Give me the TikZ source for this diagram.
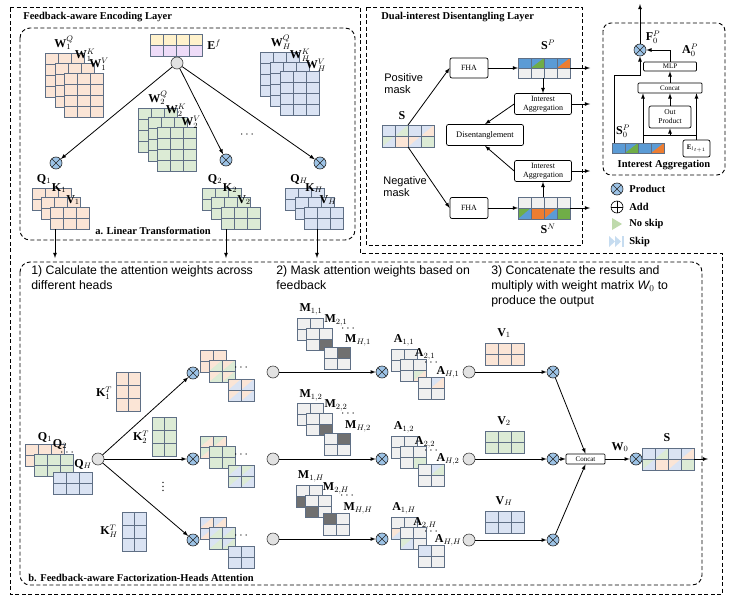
\documentclass[tikz,border=0pt]{standalone}
\usepackage{fontspec}
\setmainfont{Liberation Serif}
\newfontfamily\armfont{Liberation Sans}

\definecolor{peach}{HTML}{FBE5D6}
\definecolor{mint}{HTML}{DCEBD5}
\definecolor{sky}{HTML}{DAE3F3}
\definecolor{cellgray}{HTML}{F0F0F0}
\definecolor{darkcell}{HTML}{707070}
\definecolor{gridc}{HTML}{5F6F85}
\definecolor{prodblue}{HTML}{9DC3E6}
\definecolor{hubgray}{HTML}{E2E2E2}
\definecolor{sblue}{HTML}{5B9BD5}
\definecolor{sgreen}{HTML}{70AD47}
\definecolor{sorange}{HTML}{ED7D31}
\definecolor{eyellow}{HTML}{FFF2CC}
\definecolor{epurple}{HTML}{EEDCF8}

% grid lines of a matrix: x, y, cols, rows, cell w, cell h
\newcommand{\mlines}[6]{%
  \foreach \k in {1,...,#3}{\draw[gridc] ({#1+\k*#5},{#2}) -- ++(0,{#4*#6});}%
  \foreach \k in {1,...,#4}{\draw[gridc] ({#1},{#2+\k*#6}) -- ++({#3*#5},0);}%
  \draw[gridc] ({#1},{#2}) rectangle ++({#3*#5},{#4*#6});}
\newcommand{\mgrid}[7]{\fill[#7] ({#1},{#2}) rectangle ++({#3*#5},{#4*#6});\mlines{#1}{#2}{#3}{#4}{#5}{#6}}
% every cell split, upper-left half in #8
\newcommand{\tmat}[8]{%
  \fill[#7] ({#1},{#2}) rectangle ++({#3*#5},{#4*#6});%
  \foreach \i in {1,...,#3}{\foreach \j in {1,...,#4}{%
    \fill[#8] ({#1+(\i-1)*#5},{#2+(\j-1)*#6}) -- ++({#5},0) -- ++({-#5},{#6}) -- cycle;}}%
  \mlines{#1}{#2}{#3}{#4}{#5}{#6}}
\newcommand{\lrtri}[5]{\fill[#5] ({#1},{#2+#4}) -- ({#1+#3},{#2}) -- ({#1+#3},{#2+#4}) -- cycle;}
\newcommand{\cellfill}[5]{\fill[#5] ({#1},{#2}) rectangle ++({#3},{#4});}
\newcommand{\smat}[2]{%
  \fill[sky] ({#1},{#2}) rectangle ++(52,11);
  \fill[mint] ({#1},{#2+11}) rectangle ++(13,11);
  \fill[peach] ({#1+13},{#2+11}) rectangle ++(26,11);
  \fill[mint] ({#1+39},{#2+11}) rectangle ++(13,11);
  \lrtri{#1+13}{#2}{13}{11}{mint}\lrtri{#1+39}{#2}{13}{11}{peach}%
  \lrtri{#1}{#2+11}{13}{11}{sky}\lrtri{#1+26}{#2+11}{13}{11}{sky}%
  \mlines{#1}{#2}{4}{2}{13}{11}}

\begin{document}
\begin{tikzpicture}[x=1pt, y=-1pt, >=latex, line width=0.8pt]
    \tikzstyle{prod}=[draw=black!85, line width=0.6pt, circle, fill=prodblue, minimum size=12pt, inner sep=0pt,
        path picture={\draw[black!85, line width=0.6pt] (path picture bounding box.north west) -- (path picture bounding box.south east)
                      (path picture bounding box.north east) -- (path picture bounding box.south west);}]
    \tikzstyle{addc}=[draw=black, line width=0.6pt, circle, minimum size=12pt, inner sep=0pt,
        path picture={\draw[line width=0.6pt] (path picture bounding box.north) -- (path picture bounding box.south)
                      (path picture bounding box.west) -- (path picture bounding box.east);}]
    \tikzstyle{hub}=[draw=black!75, line width=0.6pt, circle, fill=hubgray, minimum size=12pt, inner sep=0pt]
    \tikzstyle{blk}=[draw, line width=0.7pt, rounded corners=2pt, inner sep=0pt, align=center, font=\fontsize{8}{8.5}\selectfont]
    \tikzstyle{lbl}=[inner sep=0pt, font=\fontsize{12}{13}\selectfont]
    \tikzstyle{ttl}=[inner sep=0pt, font=\fontsize{10.5}{12}\selectfont\bfseries]
    \tikzstyle{note}=[inner sep=0pt, anchor=north west, align=left, font=\armfont\fontsize{12.3}{15}\selectfont]
    \tikzstyle{dbox}=[dash pattern=on 4pt off 2.5pt, line width=0.9pt]

    \useasboundingbox (0,0) rectangle (747,597);

    % frames
    \draw[dbox] (10,7) -- (360,7) -- (360,253) -- (722,253) -- (722,594) -- (10,594) -- cycle;
    \draw[dbox, rounded corners=10pt] (20,28) rectangle (355,240);
    \draw[dbox] (366,7) rectangle (582,245);
    \draw[dbox, rounded corners=8pt] (603,23) rectangle (725,175);
    \draw[dbox, rounded corners=10pt] (20,262) rectangle (702,585);
    \node[ttl, anchor=west] (enct) at (23,17) {Feedback-aware Encoding Layer};
    \node[ttl] (lint) at (153,231) {a. Linear Transformation};
    \node[ttl, anchor=west] (dualt) at (381,17) {Dual-interest Disentangling Layer};
    \node[ttl, anchor=west] (fhat) at (28,578) {b. Feedback-aware Factorization-Heads Attention};

    % a. linear transformation
    \mgrid{150}{34}{4}{1}{13}{11}{eyellow}
    \mgrid{150}{45}{4}{1}{13}{11}{epurple}
    \node[lbl] (ef) at (214,45) {$\mathbf{E}^f$};

    \mgrid{45}{53}{3}{4}{13}{11}{peach}
    \mgrid{55}{63}{3}{4}{13}{11}{peach}
    \mgrid{64}{73}{3}{4}{13}{11}{peach}
    \mgrid{138}{108}{3}{4}{13}{11}{mint}
    \mgrid{148}{117}{3}{4}{13}{11}{mint}
    \mgrid{157}{127}{3}{4}{13}{11}{mint}
    \mgrid{260}{52}{3}{4}{13}{11}{sky}
    \mgrid{270}{62}{3}{4}{13}{11}{sky}
    \mgrid{280}{71}{3}{4}{13}{11}{sky}
    \node[lbl] (w1q) at (64,43) {$\mathbf{W}_1^Q$};
    \node[lbl] (w1k) at (85,55) {$\mathbf{W}_1^K$};
    \node[lbl] (w1v) at (99,64) {$\mathbf{W}_1^V$};
    \node[lbl] (w2q) at (158,98) {$\mathbf{W}_2^Q$};
    \node[lbl] (w2k) at (176,110) {$\mathbf{W}_2^K$};
    \node[lbl] (w2v) at (191,122) {$\mathbf{W}_2^V$};
    \node[lbl] (whq) at (281,42) {$\mathbf{W}_H^Q$};
    \node[lbl] (whk) at (300,55) {$\mathbf{W}_H^K$};
    \node[lbl] (whv) at (316,65) {$\mathbf{W}_H^V$};
    \node[lbl] (wdots) at (247,135) {$\cdots$};

    \mgrid{32}{188}{3}{2}{13}{11}{peach}
    \mgrid{41}{197}{3}{2}{13}{11}{peach}
    \mgrid{50}{207}{3}{2}{13}{11}{peach}
    \mgrid{202}{188}{3}{2}{13}{11}{mint}
    \mgrid{211}{197}{3}{2}{13}{11}{mint}
    \mgrid{221}{207}{3}{2}{13}{11}{mint}
    \mgrid{285}{188}{3}{2}{13}{11}{sky}
    \mgrid{295}{197}{3}{2}{13}{11}{sky}
    \mgrid{304}{207}{3}{2}{13}{11}{sky}
    \node[lbl] (q1) at (44,179) {$\mathbf{Q}_1$};
    \node[lbl] (k1) at (59,188) {$\mathbf{K}_1$};
    \node[lbl] (v1) at (73,200) {$\mathbf{V}_1$};
    \node[lbl] (q2) at (215,179) {$\mathbf{Q}_2$};
    \node[lbl] (k2) at (230,188) {$\mathbf{K}_2$};
    \node[lbl] (v2) at (244,200) {$\mathbf{V}_2$};
    \node[lbl] (qh) at (299,179) {$\mathbf{Q}_H$};
    \node[lbl] (kh) at (314,188) {$\mathbf{K}_H$};
    \node[lbl] (vh) at (328,200) {$\mathbf{V}_H$};

    \node[hub] (ehub) at (177,63) {};
    \node[prod] (pq1) at (56,163) {};
    \node[prod] (pq2) at (226,160) {};
    \node[prod] (pqh) at (320,163) {};
    \draw[->] (ehub) -- (pq1);
    \draw[->] (ehub) -- (pq2);
    \draw[->] (ehub) -- (pqh);

    \coordinate (o1a) at (55,229);  \coordinate (o1b) at (55,258);
    \coordinate (o2a) at (226,229); \coordinate (o2b) at (226,258);
    \coordinate (o3a) at (317,229); \coordinate (o3b) at (317,258);
    \draw[->] (o1a) -- (o1b);
    \draw[->] (o2a) -- (o2b);
    \draw[->] (o3a) -- (o3b);

    % dual-interest disentangling
    \node[note, font=\armfont\fontsize{11}{12.5}\selectfont] (posm) at (384,73) {Positive\\mask};
    \node[note, font=\armfont\fontsize{11}{12.5}\selectfont] (negm) at (383,176) {Negative\\mask};
    \smat{382}{125}
    \node[lbl] (sl) at (402,116) {$\mathbf{S}$};
    \coordinate (stop) at (408,125);
    \coordinate (sbot) at (408,147);

    \node[blk, minimum width=38pt, minimum height=20pt] (fhap) at (469,68) {FHA};
    \node[blk, minimum width=38pt, minimum height=21pt] (fhan) at (469,208) {FHA};
    \node[blk, minimum width=57pt, minimum height=21pt] (iap) at (543,104) {Interest\\Aggregation};
    \node[blk, minimum width=57pt, minimum height=21pt] (ian) at (543,171) {Interest\\Aggregation};
    \node[blk, minimum width=77pt, minimum height=21pt, font=\fontsize{8.5}{9}\selectfont] (dis) at (485,135) {Disentanglement};

    \fill[sblue] (518,58) rectangle ++(52,10);
    \fill[cellgray] (518,68) rectangle ++(52,10);
    \lrtri{531}{58}{13}{10}{sgreen}\lrtri{557}{58}{13}{10}{sorange}
    \mlines{518}{58}{4}{2}{13}{10}
    \node[lbl] (spl) at (548,45) {$\mathbf{S}^P$};

    \fill[cellgray] (518,197) rectangle ++(52,11);
    \fill[sgreen] (518,208) rectangle ++(13,11);
    \fill[sorange] (531,208) rectangle ++(26,11);
    \fill[sgreen] (557,208) rectangle ++(13,11);
    \lrtri{518}{208}{13}{11}{sblue}\lrtri{544}{208}{13}{11}{sblue}
    \mlines{518}{197}{4}{2}{13}{11}
    \node[lbl] (snl) at (548,229) {$\mathbf{S}^N$};

    \coordinate (spw) at (518,68);  \coordinate (spe) at (570,68);
    \coordinate (spo) at (590,68);  \coordinate (sps) at (543,78);
    \coordinate (snw) at (518,208); \coordinate (sne) at (570,208);
    \coordinate (sno) at (590,208); \coordinate (snn) at (543,197);
    \coordinate (iapo) at (590,104); \coordinate (iano) at (590,171);

    \draw[->] (stop) -- (fhap.west);
    \draw[->] (sbot) -- (fhan.west);
    \draw[->] (fhap) -- (spw);
    \draw[->] (fhan) -- (snw);
    \draw[->] (spe) -- (spo);
    \draw[->] (sne) -- (sno);
    \draw[->] (sps) -- (iap);
    \draw[->] (snn) -- (ian);
    \draw[->] (iap) -- (iapo);
    \draw[->] (ian) -- (iano);
    \draw[->] (iap.west) -- (dis.north);
    \draw[->] (ian.west) -- (dis.south);

    % interest aggregation
    \node[prod] (pf) at (640,50) {};
    \coordinate (ftop) at (640,4);
    \draw[->] (pf) -- (ftop);
    \node[lbl] (fl) at (653,37) {$\mathbf{F}_0^P$};
    \node[lbl] (al) at (690,50) {$\mathbf{A}_0^P$};
    \node[blk, rounded corners=1pt, minimum width=53pt, minimum height=9pt, font=\fontsize{7}{7}\selectfont] (mlp) at (670,66.5) {MLP};
    \node[blk, rounded corners=1pt, minimum width=64pt, minimum height=10pt, font=\fontsize{7}{7}\selectfont] (cat) at (670,88) {Concat};
    \node[blk, minimum width=42pt, minimum height=22pt, font=\fontsize{7.5}{9}\selectfont] (op) at (670,117) {Out\\Product};
    \node[blk, minimum width=27pt, minimum height=17pt, font=\fontsize{7}{7}\selectfont] (el) at (696.5,148.5) {$\mathbf{E}_{l_{t+1}}$};
    \fill[sblue] (612,143) rectangle ++(52,10);
    \lrtri{625}{143}{13}{10}{sgreen}\lrtri{651}{143}{13}{10}{sorange}
    \mlines{612}{143}{4}{1}{13}{10}
    \node[lbl] (s0l) at (623,131) {$\mathbf{S}_0^P$};
    \node[ttl] (iat) at (664,165) {Interest Aggregation};

    \coordinate (s0a) at (614,143);
    \coordinate (s0k) at (640,75);
    \coordinate (s0c) at (643,143);
    \coordinate (hl) at (643,135);
    \coordinate (hr) at (697,135);
    \draw[->] (mlp.north) |- (pf);
    \draw[->] (cat) -- (mlp);
    \draw[->] (s0a) |- (s0k) -- (pf);
    \draw[->] (s0c) -- (s0c |- cat.south);
    \draw (hl) -- (hr);
    \draw[->] (el.north) -- (el.north |- cat.south);
    \draw[->] (op.south |- hl) -- (op);
    \draw[->] (op) -- (cat);

    % legend
    \node[prod] (lgp) at (617,189) {};
    \node[addc] (lga) at (617,207) {};
    \fill[sgreen!45] (612,218) -- (622,224) -- (612,230) -- cycle;
    \fill[sblue!35] (609,236) -- (615,241.5) -- (609,247) -- cycle;
    \fill[sblue!35] (615,236) -- (621,241.5) -- (615,247) -- cycle;
    \fill[sblue!35] (621.5,236) rectangle (623.5,247);
    \node[ttl, anchor=west] (lgpt) at (629,189) {Product};
    \node[ttl, anchor=west] (lgat) at (629,207) {Add};
    \node[ttl, anchor=west] (lgnt) at (629,224) {No skip};
    \node[ttl, anchor=west] (lgst) at (629,242) {Skip};

    % b. feedback-aware factorization-heads attention
    \node[note] (step1) at (31,265) {1) Calculate the attention weights across\\different heads};
    \node[note] (step2) at (276,265) {2) Mask attention weights based on\\feedback};
    \node[note] (step3) at (491,265) {3) Concatenate the results and\\multiply with weight matrix {\itshape W}$_0$ to\\produce the output};

    \mgrid{25}{444}{3}{2}{13}{11}{peach}
    \mgrid{34}{454}{3}{2}{13}{11}{mint}
    \mgrid{53}{472}{3}{2}{13}{11}{sky}
    \node[lbl] (bq1) at (45,437) {$\mathbf{Q}_1$};
    \node[lbl] (bq2) at (60,444) {$\mathbf{Q}_2$};
    \node[lbl] (bqd) at (67,453) {$\cdots$};
    \node[lbl] (bqh) at (83,464) {$\mathbf{Q}_H$};

    \mgrid{116}{372}{2}{3}{12}{13}{peach}
    \mgrid{152}{417}{2}{3}{12}{13}{mint}
    \mgrid{122}{512}{2}{3}{12}{13}{sky}
    \node[lbl] (kt1) at (104,393) {$\mathbf{K}_1^T$};
    \node[lbl] (kt2) at (141,437) {$\mathbf{K}_2^T$};
    \node[lbl] (kth) at (109,531) {$\mathbf{K}_H^T$};
    \node[lbl] (kdots) at (163,484) {$\vdots$};

    \node[hub] (qhub) at (98,459) {};
    \node[prod] (pa1) at (193,373) {};
    \node[prod] (pa2) at (193,459) {};
    \node[prod] (pah) at (193,540) {};
    \draw[->] (qhub) -- (pa1);
    \draw[->] (qhub) -- (pa2);
    \draw[->] (qhub) -- (pah);

    \mgrid{200}{350}{2}{2}{13}{11}{peach}
    \tmat{209}{360}{2}{2}{13}{11}{mint}{peach}
    \tmat{228}{379}{2}{2}{13}{11}{sky}{peach}
    \tmat{200}{436}{2}{2}{13}{11}{peach}{mint}
    \mgrid{209}{446}{2}{2}{13}{11}{mint}
    \tmat{228}{465}{2}{2}{13}{11}{sky}{mint}
    \tmat{200}{517}{2}{2}{13}{11}{peach}{sky}
    \tmat{209}{527}{2}{2}{13}{11}{mint}{sky}
    \mgrid{228}{546}{2}{2}{13}{11}{sky}
    \node[lbl] (ad1) at (241,368) {$\cdots$};
    \node[lbl] (ad2) at (241,455) {$\cdots$};
    \node[lbl] (ad3) at (241,536) {$\cdots$};

    % masks
    \mgrid{297}{318}{2}{2}{13}{11}{cellgray}
    \mgrid{306}{328}{2}{2}{13}{11}{cellgray}
    \cellfill{319}{339}{13}{11}{darkcell}\mlines{306}{328}{2}{2}{13}{11}
    \mgrid{324}{347}{2}{2}{13}{11}{cellgray}
    \cellfill{337}{347}{13}{11}{darkcell}\mlines{324}{347}{2}{2}{13}{11}
    \mgrid{297}{403}{2}{2}{13}{11}{cellgray}
    \mgrid{306}{413}{2}{2}{13}{11}{cellgray}
    \cellfill{319}{424}{13}{11}{darkcell}\mlines{306}{413}{2}{2}{13}{11}
    \mgrid{324}{433}{2}{2}{13}{11}{cellgray}
    \cellfill{337}{433}{13}{11}{darkcell}\mlines{324}{433}{2}{2}{13}{11}
    \mgrid{296}{485}{2}{2}{13}{11}{cellgray}
    \cellfill{296}{496}{13}{11}{darkcell}\mlines{296}{485}{2}{2}{13}{11}
    \mgrid{305}{495}{2}{2}{13}{11}{cellgray}
    \cellfill{305}{506}{13}{11}{darkcell}\mlines{305}{495}{2}{2}{13}{11}
    \mgrid{323}{513}{2}{2}{13}{11}{cellgray}
    \cellfill{323}{513}{13}{11}{darkcell}\mlines{323}{513}{2}{2}{13}{11}
    \node[lbl] (m11) at (311,309) {$\mathbf{M}_{1,1}$};
    \node[lbl] (m21) at (336,320) {$\mathbf{M}_{2,1}$};
    \node[lbl] (md1) at (348,329) {$\cdots$};
    \node[lbl] (mh1) at (358,340) {$\mathbf{M}_{H,1}$};
    \node[lbl] (m12) at (311,395) {$\mathbf{M}_{1,2}$};
    \node[lbl] (m22) at (336,405) {$\mathbf{M}_{2,2}$};
    \node[lbl] (md2) at (348,414) {$\cdots$};
    \node[lbl] (mh2) at (358,426) {$\mathbf{M}_{H,2}$};
    \node[lbl] (m1h) at (311,476) {$\mathbf{M}_{1,H}$};
    \node[lbl] (m2h) at (336,488) {$\mathbf{M}_{2,H}$};
    \node[lbl] (mdh) at (347,496) {$\cdots$};
    \node[lbl] (mhh) at (358,508) {$\mathbf{M}_{H,H}$};

    \node[hub] (h1) at (273,372) {};
    \node[hub] (h2) at (273,459) {};
    \node[hub] (h3) at (273,539) {};
    \node[prod] (pm1) at (382,372) {};
    \node[prod] (pm2) at (382,459) {};
    \node[prod] (pm3) at (382,539) {};
    \draw[->] (h1) -- (pm1);
    \draw[->] (h2) -- (pm2);
    \draw[->] (h3) -- (pm3);

    % masked attention
    \mgrid{391}{349}{2}{2}{13}{11}{cellgray}
    \mgrid{400}{359}{2}{2}{13}{11}{cellgray}
    \cellfill{413}{370}{13}{11}{mint}\lrtri{413}{370}{13}{11}{peach}\mlines{400}{359}{2}{2}{13}{11}
    \mgrid{418}{377}{2}{2}{13}{11}{cellgray}
    \cellfill{431}{377}{13}{11}{sky}\lrtri{431}{377}{13}{11}{peach}\mlines{418}{377}{2}{2}{13}{11}
    \mgrid{391}{436}{2}{2}{13}{11}{cellgray}
    \mgrid{400}{446}{2}{2}{13}{11}{cellgray}
    \cellfill{413}{457}{13}{11}{mint}\mlines{400}{446}{2}{2}{13}{11}
    \mgrid{418}{464}{2}{2}{13}{11}{cellgray}
    \cellfill{431}{464}{13}{11}{sky}\lrtri{431}{464}{13}{11}{mint}\mlines{418}{464}{2}{2}{13}{11}
    \mgrid{391}{517}{2}{2}{13}{11}{cellgray}
    \cellfill{391}{528}{13}{11}{peach}\lrtri{391}{528}{13}{11}{sky}\mlines{391}{517}{2}{2}{13}{11}
    \mgrid{400}{527}{2}{2}{13}{11}{cellgray}
    \cellfill{400}{538}{13}{11}{mint}\lrtri{400}{538}{13}{11}{sky}\mlines{400}{527}{2}{2}{13}{11}
    \mgrid{418}{545}{2}{2}{13}{11}{cellgray}
    \cellfill{418}{545}{13}{11}{sky}\mlines{418}{545}{2}{2}{13}{11}
    \node[lbl] (a11) at (404,340) {$\mathbf{A}_{1,1}$};
    \node[lbl] (a21) at (425,354) {$\mathbf{A}_{2,1}$};
    \node[lbl] (ad1b) at (431,363) {$\cdots$};
    \node[lbl] (ah1) at (448,372) {$\mathbf{A}_{H,1}$};
    \node[lbl] (a12) at (404,427) {$\mathbf{A}_{1,2}$};
    \node[lbl] (a22) at (425,442) {$\mathbf{A}_{2,2}$};
    \node[lbl] (ad2b) at (431,451) {$\cdots$};
    \node[lbl] (ah2) at (448,459) {$\mathbf{A}_{H,2}$};
    \node[lbl] (a1h) at (404,508) {$\mathbf{A}_{1,H}$};
    \node[lbl] (a2h) at (425,523) {$\mathbf{A}_{2,H}$};
    \node[lbl] (adhb) at (431,532) {$\cdots$};
    \node[lbl] (ahh) at (448,540) {$\mathbf{A}_{H,H}$};

    % values, concat and output
    \mgrid{485}{343}{3}{2}{13}{11}{peach}
    \mgrid{485}{431}{3}{2}{13}{11}{mint}
    \mgrid{485}{511}{3}{2}{13}{11}{sky}
    \node[lbl] (vl1) at (504,333) {$\mathbf{V}_1$};
    \node[lbl] (vl2) at (504,421) {$\mathbf{V}_2$};
    \node[lbl] (vlh) at (504,501) {$\mathbf{V}_H$};

    \node[hub] (hv1) at (469,372) {};
    \node[hub] (hv2) at (469,459) {};
    \node[hub] (hv3) at (469,540) {};
    \node[prod] (pv1) at (553,372) {};
    \node[prod] (pv2) at (553,459) {};
    \node[prod] (pv3) at (553,540) {};
    \draw[->] (hv1) -- (pv1);
    \draw[->] (hv2) -- (pv2);
    \draw[->] (hv3) -- (pv3);

    \node[blk, rounded corners=1pt, minimum width=39pt, minimum height=10pt, font=\fontsize{7}{7}\selectfont] (cat2) at (585.5,459) {Concat};
    \draw[->] (pv1) -- (cat2.north);
    \draw[->] (pv2) -- (cat2);
    \draw[->] (pv3) -- (cat2.south);
    \node[prod] (pw0) at (636,459) {};
    \draw[->] (cat2) -- (pw0);
    \node[lbl] (w0l) at (620,447) {$\mathbf{W}_0$};
    \smat{642}{448}
    \node[lbl] (sol) at (667,438) {$\mathbf{S}$};
    \coordinate (soe) at (694,459);
    \coordinate (soo) at (708,459);
    \draw[->] (soe) -- (soo);
\end{tikzpicture}
\end{document}
